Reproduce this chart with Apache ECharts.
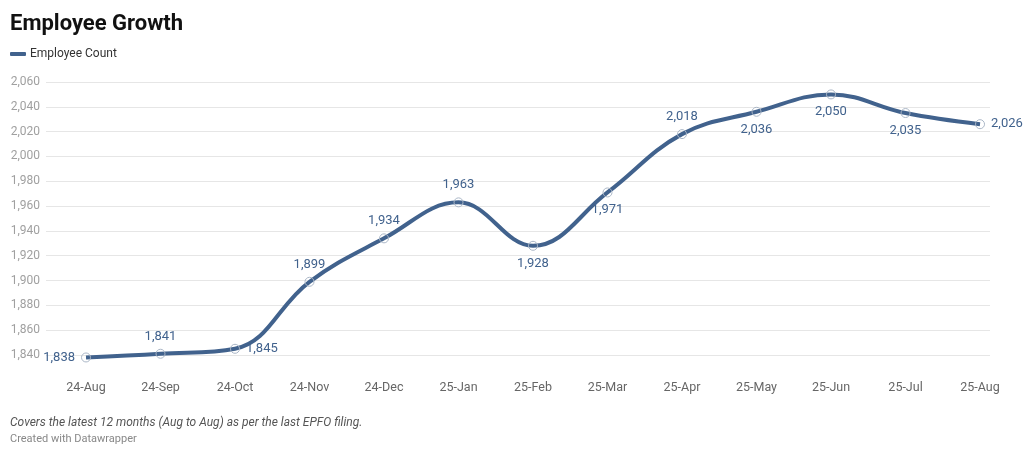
<!DOCTYPE html>
<html><head><meta charset="utf-8">
<script src="https://cdn.jsdelivr.net/npm/echarts@6/dist/echarts.min.js"></script>
<style>html,body{margin:0;padding:0;background:#fff}#c{width:1024px;height:457px}</style>
</head><body><div id="c"></div>
<script>
var categories = ['24-Aug','24-Sep','24-Oct','24-Nov','24-Dec','25-Jan','25-Feb','25-Mar','25-Apr','25-May','25-Jun','25-Jul','25-Aug'];
var employeeCount = [1838,1841,1845,1899,1934,1963,1928,1971,2018,2036,2050,2035,2026];
var yTicks = [1840,1860,1880,1900,1920,1940,1960,1980,2000,2020,2040,2060];

var labelPos = ['left','top','right','top','top','top','bottom','bottom','top','bottom','bottom','bottom','right'];
var idx = categories.map(function(_, i){ return i; });
var seriesData = employeeCount.map(function(v, i){
  return { value: [i, v], label: { position: labelPos[i] } };
});

var chart = echarts.init(document.getElementById('c'));
chart.setOption({
  animation: false,
  textStyle: { fontFamily: 'Roboto' },
  title: [
    { text: 'Employee Growth', left: 10, top: 13, padding: 0, textStyle: { fontSize: 22, fontWeight: 'bold', color: '#111', fontFamily: 'Roboto' } },
    { text: 'Covers the latest 12 months (Aug to Aug) as per the last EPFO filing.', left: 10, top: 417, padding: 0, textStyle: { fontSize: 12, fontStyle: 'italic', fontWeight: 'normal', color: '#555', fontFamily: 'Roboto' } },
    { text: 'Created with Datawrapper', left: 10, top: 434, padding: 0, textStyle: { fontSize: 11, fontWeight: 'normal', color: '#888', fontFamily: 'Roboto' } }
  ],
  legend: {
    left: 10, top: 48, padding: 0, icon: 'roundRect', itemWidth: 16, itemHeight: 4, itemGap: 10,
    itemStyle: { borderWidth: 0, color: '#41628d' },
    textStyle: { fontSize: 12, color: '#333', padding: [0,0,0,-1] },
    data: ['Employee Count']
  },
  grid: { left: 46, right: 34, top: 82, bottom: 102, containLabel: false },
  xAxis: {
    type: 'value', min: -0.537, max: 12.134,
    axisLine: { show: false }, axisTick: { show: false }, splitLine: { show: false },
    axisLabel: {
      customValues: idx, margin: 26, color: '#666', fontSize: 12.5,
      formatter: function(v){ return categories[Math.round(v)]; }
    }
  },
  yAxis: {
    type: 'value', min: 1840, max: 2060, interval: 20,
    axisLine: { show: false }, axisTick: { show: false },
    splitLine: { lineStyle: { color: '#e6e6e6', width: 1 } },
    axisLabel: { color: '#a0a0a0', fontSize: 12, margin: 6,
      formatter: function(v){ return v.toLocaleString('en-US'); } }
  },
  series: [{
    name: 'Employee Count', type: 'line', smooth: 0.4, clip: false,
    data: seriesData,
    lineStyle: { color: '#41628d', width: 4 },
    itemStyle: { color: 'rgba(255,255,255,0)', borderColor: '#aab6c6', borderWidth: 1 },
    symbol: 'circle', symbolSize: 9, showSymbol: true, showAllSymbol: true,
    labelLayout: { hideOverlap: false },
    label: { show: true, color: '#41628d', fontSize: 13, distance: 6,
      formatter: function(p){ return p.value[1].toLocaleString('en-US'); } }
  }]
});
</script></body></html>
